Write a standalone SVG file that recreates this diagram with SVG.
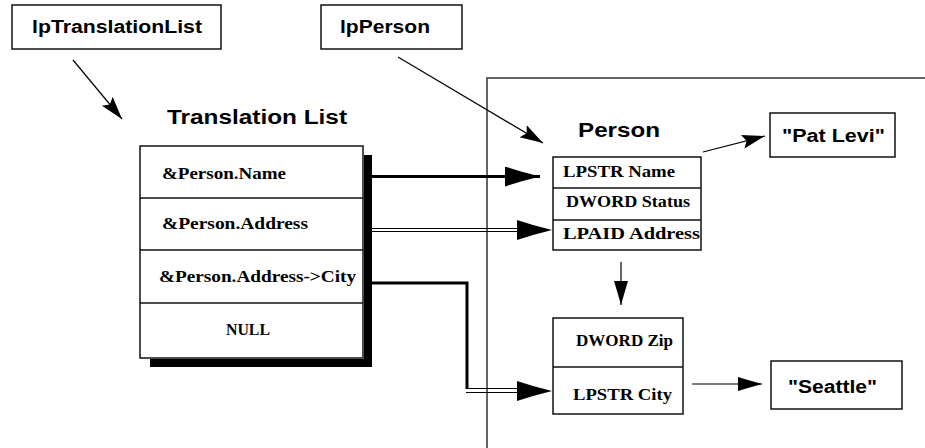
<svg xmlns="http://www.w3.org/2000/svg" width="925" height="448" viewBox="0 0 925 448">
<style>
  .box { fill: #fff; stroke: #111; stroke-width: 1.5; }
  .div { stroke: #111; stroke-width: 1.3; }
  .frame { fill: none; stroke: #333; stroke-width: 1.5; }
  .sans { font-family: "Liberation Sans", Arial, sans-serif; font-weight: bold; fill: #000; }
  .serif { font-family: "Liberation Serif", "Times New Roman", serif; font-weight: bold; font-size: 16px; fill: #000; }
  .thin { fill: none; stroke: #000; stroke-width: 1.2; }
  .thick { fill: none; stroke: #000; stroke-width: 3; }
  .guide { fill: none; stroke: none; }
</style>
<defs>
  <marker id="ahBig" markerUnits="userSpaceOnUse" markerWidth="36" markerHeight="22" refX="35" refY="10" orient="auto">
    <path d="M0,0 L16,5 L35,10 L16,15 L0,20 Z" fill="#000"/>
  </marker>
  <marker id="ahDiag" markerUnits="userSpaceOnUse" markerWidth="24" markerHeight="16" refX="23" refY="7" orient="auto">
    <path d="M0,0 L23,7 L0,14 L4,7 Z" fill="#000"/>
  </marker>
  <marker id="ahSmall" markerUnits="userSpaceOnUse" markerWidth="26" markerHeight="16" refX="24" refY="7" orient="auto">
    <path d="M0,0 L10,3 L24,7 L10,11 L0,14 Z" fill="#000"/>
  </marker>
</defs>

<g id="lpTranslationList">
  <rect class="box" x="12" y="5" width="209" height="44"/>
  <text class="sans" x="32" y="33" font-size="18" textLength="170" lengthAdjust="spacingAndGlyphs">lpTranslationList</text>
</g>

<g id="lpPerson">
  <rect class="box" x="321" y="5" width="141" height="44"/>
  <text class="sans" x="340" y="33" font-size="18" textLength="90" lengthAdjust="spacingAndGlyphs">lpPerson</text>
</g>

<g id="translation-list">
  <text class="sans" x="167" y="124" font-size="20" textLength="180" lengthAdjust="spacingAndGlyphs">Translation List</text>
  <rect class="box" x="140" y="146" width="223" height="212"/>
  <path d="M364,155 H372 V367 H150 V359 H364 Z" fill="#000"/>
  <line class="div" x1="140" y1="198" x2="363" y2="198"/>
  <line class="div" x1="140" y1="250" x2="363" y2="250" stroke-width="2.2"/>
  <line class="div" x1="140" y1="303" x2="363" y2="303"/>
  <text class="serif" x="162" y="179" textLength="124" lengthAdjust="spacingAndGlyphs">&amp;Person.Name</text>
  <text class="serif" x="162" y="229" textLength="146" lengthAdjust="spacingAndGlyphs">&amp;Person.Address</text>
  <text class="serif" x="159" y="282" textLength="197" lengthAdjust="spacingAndGlyphs">&amp;Person.Address-&gt;City</text>
  <text class="serif" x="226" y="335" textLength="44" lengthAdjust="spacingAndGlyphs">NULL</text>
</g>

<g id="person-frame">
  <path class="frame" d="M925,78 H487 V448"/>
  <text class="sans" x="578" y="137" font-size="20" textLength="82" lengthAdjust="spacingAndGlyphs">Person</text>
</g>

<g id="person-struct">
  <rect class="box" x="553" y="157" width="148" height="93"/>
  <line class="div" x1="553" y1="188" x2="701" y2="188"/>
  <line class="div" x1="553" y1="220" x2="701" y2="220"/>
  <text class="serif" x="563" y="177" textLength="112" lengthAdjust="spacingAndGlyphs">LPSTR Name</text>
  <text class="serif" x="566" y="207" textLength="124" lengthAdjust="spacingAndGlyphs">DWORD Status</text>
  <text class="serif" x="563" y="239" textLength="137" lengthAdjust="spacingAndGlyphs">LPAID Address</text>
</g>

<g id="address-struct">
  <rect class="box" x="553" y="318" width="130" height="96"/>
  <line class="div" x1="553" y1="367" x2="683" y2="367"/>
  <text class="serif" x="576" y="346" textLength="97" lengthAdjust="spacingAndGlyphs">DWORD Zip</text>
  <text class="serif" x="573" y="400" textLength="99" lengthAdjust="spacingAndGlyphs">LPSTR City</text>
</g>

<g id="pat-levi">
  <rect class="box" x="770" y="113" width="125" height="44"/>
  <text class="sans" x="782" y="142" font-size="18" textLength="103" lengthAdjust="spacingAndGlyphs">"Pat Levi"</text>
</g>

<g id="seattle">
  <rect class="box" x="771" y="361" width="131" height="48"/>
  <text class="sans" x="788" y="393" font-size="18" textLength="89" lengthAdjust="spacingAndGlyphs">"Seattle"</text>
</g>

<g id="connectors">
  <line class="thin" x1="73" y1="60" x2="122" y2="119" marker-end="url(#ahDiag)"/>
  <line class="thin" x1="398" y1="57" x2="543" y2="143" marker-end="url(#ahDiag)"/>
  <line class="thin" x1="703" y1="152" x2="765" y2="136" marker-end="url(#ahDiag)"/>
  <line class="thick" x1="372" y1="176.5" x2="540" y2="176.5" marker-end="url(#ahBig)"/>
  <line class="thin" x1="372" y1="228.5" x2="530" y2="228.5"/>
  <line class="thin" x1="372" y1="231.5" x2="530" y2="231.5"/>
  <line class="guide" x1="500" y1="230" x2="552" y2="230" marker-end="url(#ahBig)"/>
  <path class="thick" d="M372,283 H467 V389"/>
  <line class="thin" x1="466" y1="388.5" x2="530" y2="388.5"/>
  <line class="thin" x1="466" y1="392.5" x2="530" y2="392.5"/>
  <line class="guide" x1="500" y1="391" x2="552" y2="391" marker-end="url(#ahBig)"/>
  <line class="thin" x1="621" y1="262" x2="621" y2="305" marker-end="url(#ahSmall)"/>
  <line class="thin" x1="692" y1="384" x2="762" y2="384" marker-end="url(#ahSmall)"/>
</g>
</svg>
